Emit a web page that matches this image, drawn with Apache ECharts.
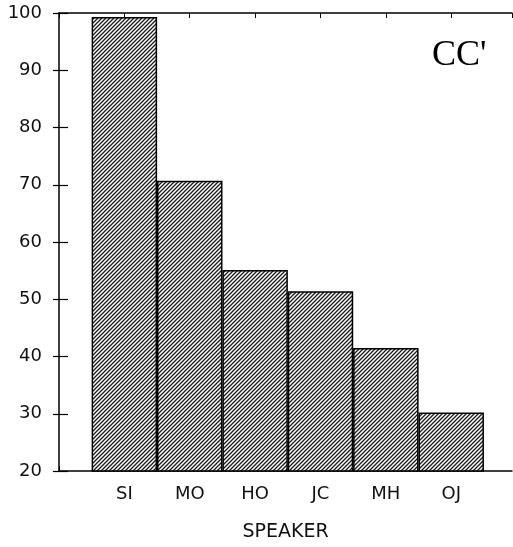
<!DOCTYPE html>
<html>
<head>
<meta charset="utf-8">
<script src="https://cdn.jsdelivr.net/npm/echarts@6/dist/echarts.min.js"></script>
<style>
  html, body { margin: 0; padding: 0; background: #fff; }
  #main { width: 513px; height: 547px; }
</style>
</head>
<body>
<div id="main"></div>
<script>
// speakers along the x axis, one bar each
var speakers = ['SI', 'MO', 'HO', 'JC', 'MH', 'OJ'];
var scores = [99.3, 70.7, 55.1, 51.4, 41.5, 30.2];
var yTicks = [20, 30, 40, 50, 60, 70, 80, 90, 100];

// hatch fill: dense "/" lines
var tile = document.createElement('canvas');
tile.width = 4;
tile.height = 4;
var ctx = tile.getContext('2d');
ctx.fillStyle = '#fff';
ctx.fillRect(0, 0, 4, 4);
ctx.strokeStyle = '#1a1a1a';
ctx.lineWidth = 1.3;
ctx.beginPath();
ctx.moveTo(-1, 5); ctx.lineTo(5, -1);
ctx.moveTo(-1, 1); ctx.lineTo(1, -1);
ctx.moveTo(3, 5); ctx.lineTo(5, 3);
ctx.stroke();

var barData = scores.map(function (v, i) { return [i + 1, v]; });

var myChart = echarts.init(document.getElementById('main'));

var lineStyle = { color: '#000', width: 1.5 };
var font = 'DejaVu Sans';

option = {
    animation: false,
    grid: { left: 59, right: 1, top: 13, bottom: 74 },
    xAxis: [
        {
            type: 'value',
            min: 0,
            max: 6.93,
            interval: 1,
            position: 'bottom',
            name: 'SPEAKER',
            nameLocation: 'middle',
            nameGap: 52,
            nameTextStyle: { fontFamily: font, fontSize: 19, color: '#111' },
            splitLine: { show: false },
            axisLine: { lineStyle: lineStyle },
            axisTick: { inside: true, length: 5, lineStyle: { color: '#000', width: 1 } },
            axisLabel: {
                margin: 14,
                fontFamily: font,
                fontSize: 18,
                color: '#111',
                showMaxLabel: false,
                formatter: function (v) { return speakers[v - 1] || ''; }
            }
        },
        {
            type: 'value',
            min: 0,
            max: 6.93,
            interval: 1,
            position: 'top',
            splitLine: { show: false },
            axisLine: { lineStyle: lineStyle },
            axisTick: { inside: true, length: 5, lineStyle: { color: '#000', width: 1 } },
            axisLabel: { show: false }
        }
    ],
    yAxis: [
        {
            type: 'value',
            min: yTicks[0],
            max: yTicks[yTicks.length - 1],
            interval: 10,
            position: 'left',
            splitLine: { show: false },
            axisLine: { show: true, lineStyle: lineStyle },
            axisTick: { show: true, inside: true, length: 9, lineStyle: { color: '#000', width: 1.2 } },
            axisLabel: { margin: 17, fontFamily: font, fontSize: 18, color: '#111' }
        },
        {
            type: 'value',
            min: yTicks[0],
            max: yTicks[yTicks.length - 1],
            interval: 10,
            position: 'right',
            splitLine: { show: false },
            axisLine: { show: false },
            axisTick: { show: true, inside: true, length: 6, lineStyle: { color: '#000', width: 1.2 } },
            axisLabel: { show: false }
        }
    ],
    graphic: [
        {
            type: 'text',
            left: 432,
            top: 38,
            style: {
                text: "CC'",
                fontFamily: 'Liberation Serif',
                fontSize: 36,
                fill: '#000'
            }
        }
    ],
    series: [
        {
            type: 'bar',
            data: barData,
            barWidth: 65.5,
            itemStyle: {
                color: { image: tile, repeat: 'repeat' },
                borderColor: '#000',
                borderWidth: 1.5
            }
        }
    ]
};
myChart.setOption(option);
</script>
</body>
</html>
